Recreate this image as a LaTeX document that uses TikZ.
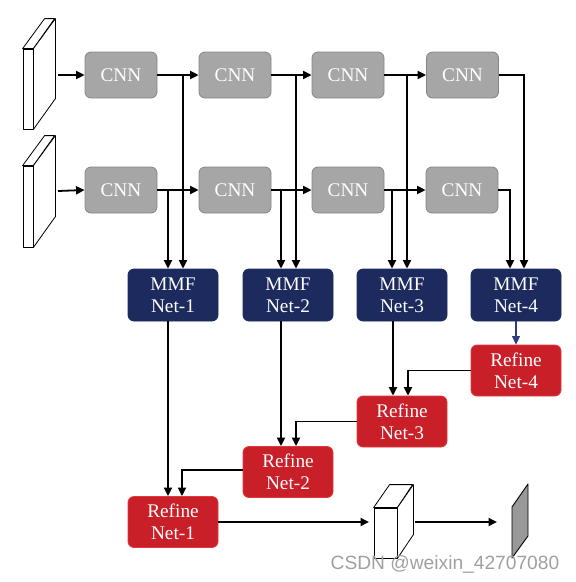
\documentclass[tikz,border=0pt]{standalone}
\usepackage{fontspec}
\setmainfont{Liberation Serif}
\newfontfamily\wmfont{Liberation Sans}
\usetikzlibrary{arrows.meta,calc}
\definecolor{cnnfill}{HTML}{A6A6A6}
\definecolor{cnnline}{HTML}{858585}
\definecolor{mmffill}{HTML}{1C2A5E}
\definecolor{reffill}{HTML}{C91F28}
\definecolor{refline}{HTML}{E5393E}
\definecolor{navyarrow}{HTML}{2E3E7C}
\definecolor{wmgray}{HTML}{A0A0A0}
\tikzset{
  box/.style={rounded corners=6pt, text=white, align=center, inner sep=0pt,
    font=\fontsize{19.3}{22}\selectfont},
  cnnbox/.style={box, fill=cnnfill, draw=cnnline, line width=0.8pt,
    minimum width=72pt, minimum height=46pt},
  mmfbox/.style={box, fill=mmffill, draw=mmffill, line width=0.8pt,
    minimum width=90pt, minimum height=52pt},
  refbox/.style={box, fill=reffill, draw=refline, line width=0.8pt,
    minimum width=90pt, minimum height=51pt},
  arr/.style={line width=1.8pt, -{Triangle[length=8.5pt,width=8pt]}},
  slab/.style={draw=black, line width=0.8pt, fill=white, line join=round},
}
\begin{document}
\begin{tikzpicture}[x=1pt,y=-1pt]
\useasboundingbox (0,0) rectangle (576,582);

% input slabs
\node[slab, minimum width=10pt, minimum height=80pt, inner sep=0pt] (s1) at (28,89) {};
\draw[slab] (s1.north west) -- ++(22,-30) -- ++(10,0) -- (s1.north east) -- cycle;
\draw[slab] (s1.north east) -- ++(22,-30) -- ++(0,80) -- (s1.south east) -- cycle;
\node[slab, minimum width=10pt, minimum height=81pt, inner sep=0pt] (s2) at (28,206.5) {};
\draw[slab] (s2.north west) -- ++(22,-30) -- ++(10,0) -- (s2.north east) -- cycle;
\draw[slab] (s2.north east) -- ++(22,-30) -- ++(0,81) -- (s2.south east) -- cycle;

% CNN rows
\node[cnnbox] (c1) at (121,75) {CNN};
\node[cnnbox] (c2) at (235,75) {CNN};
\node[cnnbox] (c3) at (348,75) {CNN};
\node[cnnbox] (c4) at (462.5,75) {CNN};
\node[cnnbox] (d1) at (121,190) {CNN};
\node[cnnbox] (d2) at (235,190) {CNN};
\node[cnnbox] (d3) at (348,190) {CNN};
\node[cnnbox] (d4) at (462,190) {CNN};

% MMF nets
\node[mmfbox] (m1) at (173,295) {MMF\\Net-1};
\node[mmfbox] (m2) at (288,295) {MMF\\Net-2};
\node[mmfbox] (m3) at (402,295) {MMF\\Net-3};
\node[mmfbox] (m4) at (516,295) {MMF\\Net-4};

% Refine nets
\node[refbox] (r4) at (516,370.5) {Refine\\Net-4};
\node[refbox] (r3) at (402,421.5) {Refine\\Net-3};
\node[refbox] (r2) at (288,472) {Refine\\Net-2};
\node[refbox] (r1) at (173,522) {Refine\\Net-1};

% input arrows
\coordinate (i1) at (58,75);
\coordinate (i2) at (58,191);
\draw[arr] (i1) -- (c1.west);
\draw[arr] (i2) -- (c1.west |- d1.west);

% horizontal CNN chains
\draw[arr] (c1) -- (c2);
\draw[arr] (c2) -- (c3);
\draw[arr] (c3) -- (c4);
\draw[arr] (d1) -- (d2);
\draw[arr] (d2) -- (d3);
\draw[arr] (d3) -- (d4);

% junctions and drops to MMF
\coordinate (t1) at (183,75);
\coordinate (t2) at (296,75);
\coordinate (t3) at (407,75);
\coordinate (b1) at (168,190);
\coordinate (b2) at (281,190);
\coordinate (b3) at (392,190);
\draw[arr] (t1) -- (t1 |- m1.north);
\draw[arr] (t2) -- (t2 |- m2.north);
\draw[arr] (t3) -- (t3 |- m3.north);
\draw[arr] (b1) -- (b1 |- m1.north);
\draw[arr] (b2) -- (b2 |- m2.north);
\draw[arr] (b3) -- (b3 |- m3.north);
\draw[arr] (c4.east) -| ([xshift=8pt]m4.north);
\draw[arr] (d4.east) -| ([xshift=-6pt]m4.north);

% MMF to Refine
\draw[arr, draw=navyarrow, fill=navyarrow, line width=1.3pt] (m4.south) -- (r4.north);
\draw[arr] ([xshift=-9pt]m3.south) -- ([xshift=-9pt]r3.north);
\draw[arr] (r4.west) -| ([xshift=6pt]r3.north);
\draw[arr] ([xshift=-7pt]m2.south) -- ([xshift=-7pt]r2.north);
\draw[arr] (r3.west) -| ([xshift=8pt]r2.north);
\draw[arr] ([xshift=-5pt]m1.south) -- ([xshift=-5pt]r1.north);
\draw[arr] ([yshift=2pt]r2.west) -| ([xshift=9pt]r1.north);

% output cube
\node[slab, minimum width=23pt, minimum height=50pt, inner sep=0pt] (cube) at (385.5,533) {};
\draw[slab] (cube.north west) -- ++(16,-23) -- ++(23,0) -- (cube.north east) -- cycle;
\draw[slab] (cube.north east) -- ++(16,-23) -- ++(0,50) -- (cube.south east) -- cycle;
\coordinate (e1) at (369,522);
\draw[arr] (r1.east) -- (e1);

% output plane
\coordinate (p1) at (512,507);
\coordinate (p2) at (528,484);
\coordinate (p3) at (528,536);
\coordinate (p4) at (512,558);
\draw[line width=0.9pt, fill=black!40, line join=round] (p1) -- (p2) -- (p3) -- (p4) -- cycle;
\coordinate (e2) at (415,522);
\coordinate (e3) at (497,522);
\draw[arr] (e2) -- (e3);

% watermark
\node[font=\wmfont\fontsize{19.2}{20}\selectfont, text=wmgray, anchor=base, inner sep=0pt] (wm) at (445,569) {CSDN @weixin\_42707080};
\end{tikzpicture}
\end{document}
